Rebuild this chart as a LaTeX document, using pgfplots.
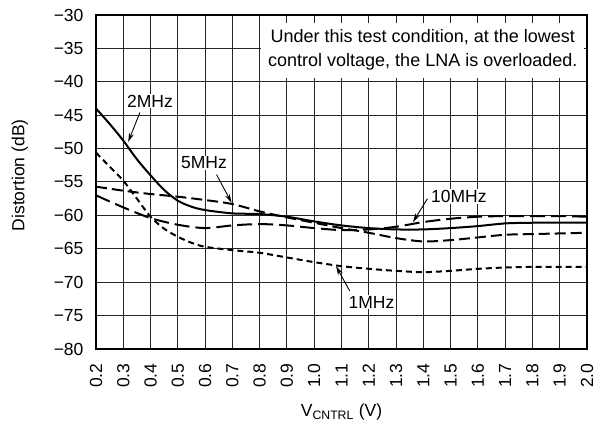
\documentclass[border=0pt]{standalone}
\usepackage{fontspec}
\setmainfont{Liberation Sans}
\usepackage{pgfplots}
\pgfplotsset{compat=1.18}
\usetikzlibrary{arrows.meta}

\newcommand{\lbl}{\fontsize{17.5}{20}\selectfont}

\begin{document}
\begin{tikzpicture}
\useasboundingbox (-96pt,-78pt) rectangle (507pt,349pt);
\begin{axis}[
  at={(0pt,0pt)}, anchor=south west,
  scale only axis,
  width=491pt, height=334pt,
  xmin=0.2, xmax=2.0, ymin=-80, ymax=-30,
  xtick={0.2,0.3,0.4,0.5,0.6,0.7,0.8,0.9,1.0,1.1,1.2,1.3,1.4,1.5,1.6,1.7,1.8,1.9,2.0},
  xticklabels={0.2,0.3,0.4,0.5,0.6,0.7,0.8,0.9,1.0,1.1,1.2,1.3,1.4,1.5,1.6,1.7,1.8,1.9,2.0},
  ytick={-80,-75,-70,-65,-60,-55,-50,-45,-40,-35,-30},
  yticklabels={−80,−75,−70,−65,−60,−55,−50,−45,−40,−35,−30},
  xticklabel style={font=\lbl, rotate=90, anchor=east},
  yticklabel style={font=\lbl},
  xticklabel shift=11pt,
  yticklabel shift=9pt,
  tick style={draw=none},
  grid=major,
  grid style={black!85, line width=1pt},
  axis line style={line width=2.4pt},
  xlabel={V\textsubscript{CNTRL} (V)},
  ylabel={Distortion (dB)},
  xlabel style={font=\lbl, at={(axis description cs:0.5,-0.19)}, anchor=center},
  ylabel style={font=\lbl, at={(axis description cs:-0.155,0.52)}, anchor=center},
  every axis plot/.append style={black, line width=2pt, smooth},
]
% 2MHz
\addplot[solid] coordinates {
 (0.20,-44.0) (0.25,-46.3) (0.30,-48.8) (0.35,-51.6) (0.40,-54.0) (0.45,-56.2)
 (0.50,-57.8) (0.55,-58.7) (0.60,-59.2) (0.70,-59.7) (0.80,-59.8) (0.90,-60.2)
 (1.00,-60.9) (1.10,-61.5) (1.20,-61.9) (1.30,-62.1) (1.40,-62.1) (1.50,-61.9)
 (1.60,-61.6) (1.70,-61.2) (1.80,-61.1) (1.90,-61.1) (2.00,-61.1)};
% 5MHz
\addplot[dash pattern=on 11pt off 5pt] coordinates {
 (0.20,-55.7) (0.30,-56.3) (0.40,-56.8) (0.50,-57.2) (0.60,-57.7) (0.70,-58.3)
 (0.80,-59.4) (0.90,-60.3) (1.00,-61.1) (1.10,-61.9) (1.20,-62.6) (1.30,-63.4)
 (1.40,-63.9) (1.50,-63.7) (1.60,-63.3) (1.70,-62.9) (1.80,-62.8) (1.90,-62.7)
 (2.00,-62.6)};
% 10MHz
\addplot[dash pattern=on 15pt off 6pt] coordinates {
 (0.20,-57.0) (0.30,-58.8) (0.40,-60.4) (0.50,-61.4) (0.60,-61.9) (0.70,-61.5)
 (0.80,-61.3) (0.90,-61.5) (1.00,-61.9) (1.10,-62.2) (1.20,-62.1) (1.30,-61.7)
 (1.40,-61.0) (1.50,-60.5) (1.60,-60.2) (1.70,-60.1) (1.80,-60.1) (1.90,-60.1)
 (2.00,-60.2)};
% 1MHz
\addplot[dash pattern=on 6pt off 4pt] coordinates {
 (0.20,-50.6) (0.25,-52.7) (0.30,-54.8) (0.35,-57.5) (0.40,-60.2) (0.45,-62.0)
 (0.50,-63.2) (0.55,-64.1) (0.60,-64.7) (0.70,-65.2) (0.80,-65.6) (0.90,-66.3)
 (1.00,-67.0) (1.10,-67.6) (1.20,-68.0) (1.30,-68.3) (1.40,-68.5) (1.50,-68.3)
 (1.60,-68.0) (1.70,-67.8) (1.80,-67.7) (1.90,-67.7) (2.00,-67.7)};

% note box
\fill[white] (axis cs:0.804,-31.2) rectangle (axis cs:1.99,-39.4);
\node[font=\fontsize{18}{24}\selectfont, align=center] at (axis cs:1.398,-35.24)
  {Under this test condition, at the lowest\\control voltage, the LNA is overloaded.};

% curve labels
\tikzset{lab/.style={font=\lbl, fill=white, inner sep=1pt},
         arr/.style={line width=0.9pt, -{Stealth[length=9pt,width=5pt]}}}
\node[lab] at (axis cs:0.398,-42.9) {2MHz};
\draw[arr] (axis cs:0.361,-44.6) -- (axis cs:0.318,-49.0);
\node[lab] at (axis cs:0.596,-52.1) {5MHz};
\draw[arr] (axis cs:0.642,-53.9) -- (axis cs:0.697,-58.1);
\node[lab] at (axis cs:1.53,-57.2) {10MHz};
\draw[arr] (axis cs:1.415,-57.5) -- (axis cs:1.362,-61.0);
\node[lab] at (axis cs:1.21,-73.0) {1MHz};
\draw[arr] (axis cs:1.13,-71.3) -- (axis cs:1.08,-67.6);
\end{axis}
\end{tikzpicture}
\end{document}
